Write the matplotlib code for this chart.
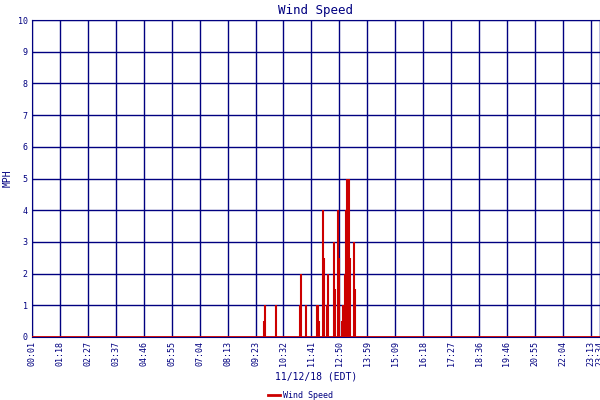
import matplotlib
matplotlib.use("Agg")
import matplotlib.pyplot as plt

tick_labels = ["00:01","01:18","02:27","03:37","04:46","05:55","07:04","08:13","09:23","10:32",
               "11:41","12:50","13:59","15:09","16:18","17:27","18:36","19:46","20:55","22:04","23:13","23:34"]
bar_times = [578,581,608,668,670,683,710,713,715,725,727,735,737,752,755,762,765,772,775,780,782,785,790,792,802,805]
bar_values = [0.5,1,1,1,2,1,1,1,0.5,4,2.5,1,2,3,1.5,4,2.5,0.5,1,2,4,5,5,2.5,3,1.5]

navy = "#000080"
red = "#cc0000"
fig = plt.figure(figsize=(6, 4), dpi=100)
ax = fig.add_axes([32/600, 1-337/400, 568/600, 317/400])
ax.vlines(bar_times, 0, bar_values, color=red, lw=1.5, zorder=3)
ax.plot([1, 1414], [0, 0], color=red, lw=2, zorder=4)
ax.set_xlim(1, 1414)
ax.set_ylim(0, 10)
tick_pos = [1 + i * 69.5 for i in range(len(tick_labels) - 1)] + [1414]
ax.set_xticks(tick_pos)
ax.set_xticklabels(tick_labels, rotation=90, fontsize=6, color=navy, family="DejaVu Sans Mono")
ax.set_yticks(range(11))
ax.set_yticklabels([str(i) for i in range(11)], fontsize=6, color=navy, family="DejaVu Sans Mono")
ax.tick_params(length=0, pad=3)
ax.set_axisbelow(True)
ax.grid(True, color=navy, lw=1)
for s in ax.spines.values():
    s.set_color(navy)
ax.set_title("Wind Speed", color=navy, fontsize=9, family="DejaVu Sans Mono", pad=4)
ax.set_ylabel("MPH", color=navy, fontsize=7, family="DejaVu Sans Mono")
ax.set_xlabel("11/12/18 (EDT)", color=navy, fontsize=7, family="DejaVu Sans Mono", labelpad=4)
fig.lines.append(plt.Line2D([268/600, 280/600], [1-395/400]*2, color=red, lw=2, transform=fig.transFigure))
fig.text(283/600, 1-395/400, "Wind Speed", color=navy, fontsize=6, family="DejaVu Sans Mono", va="center")
fig.savefig("out.png", dpi=100)
